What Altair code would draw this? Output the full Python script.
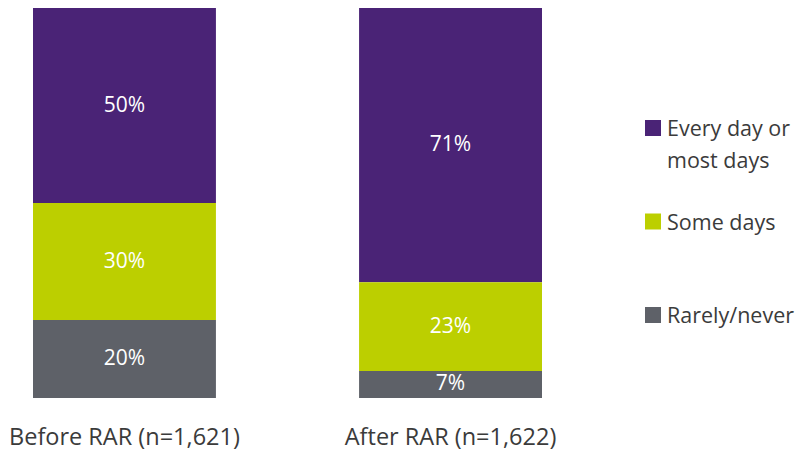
import altair as alt
import pandas as pd

groups = ["Before RAR (n=1,621)", "After RAR (n=1,622)"]
cats = ["Every day or most days", "Some days", "Rarely/never"]
legend_labels = ["Every day or\nmost days", "Some days", "Rarely/never"]
before = [50, 30, 20]
after = [71, 23, 7]
colors = ["#4a2376", "#bccf00", "#5e6168"]

FONT = "Open Sans"
TEXT = "#3b3b3b"

rows = []
for g, vals in zip(groups, [before, after]):
    for i, (c, v) in enumerate(zip(cats, vals)):
        rows.append({"group": g, "cat": c, "value": v, "ord": len(cats) - 1 - i})
df = pd.DataFrame(rows)

color_scale = alt.Scale(domain=cats, range=colors)

base = alt.Chart(df).transform_stack(
    stack="value",
    groupby=["group"],
    sort=[alt.SortField("ord", order="ascending")],
    offset="normalize",
    as_=["y0", "y1"],
).transform_calculate(
    mid="(datum.y0 + datum.y1) / 2",
    label="datum.value + '%'",
)

xenc = alt.X(
    "group:N",
    sort=groups,
    scale=alt.Scale(paddingInner=0.439, paddingOuter=0),
    axis=alt.Axis(
        title=None, labelAngle=0, domain=False, ticks=False, labelLimit=0,
        labelFontSize=23.5, labelFont=FONT, labelColor=TEXT, labelPadding=27,
    ),
)
yscale = alt.Scale(domain=[0, 1], nice=False)

bars = base.mark_bar().encode(
    x=xenc,
    y=alt.Y("y0:Q", scale=yscale, axis=None),
    y2="y1:Q",
    color=alt.Color("cat:N", scale=color_scale, legend=None),
)
texts = base.mark_text(color="white", fontSize=21, font=FONT, baseline="middle").encode(
    x=xenc,
    y=alt.Y("mid:Q", scale=yscale, axis=None),
    text="label:N",
)
bar_panel = alt.layer(bars, texts).properties(width=509, height=390)

leg_df = pd.DataFrame({"cat": cats, "label": legend_labels})
leg_base = alt.Chart(leg_df).encode(
    y=alt.Y("cat:N", sort=cats, scale=alt.Scale(range=[120, 307], padding=0), axis=None)
)
leg_sq = leg_base.mark_square(size=256, opacity=1).encode(
    x=alt.value(11),
    color=alt.Color("cat:N", scale=color_scale, legend=None),
)
leg_tx = leg_base.mark_text(
    align="left", baseline="alphabetic", dy=8, fontSize=21.5, lineHeight=32,
    lineBreak="\n", font=FONT, color=TEXT,
).encode(x=alt.value(25), text="label:N")
leg_panel = alt.layer(leg_sq, leg_tx).properties(width=120, height=390)

chart = alt.hconcat(bar_panel, leg_panel, spacing=100, bounds="flush").properties(
    padding={"left": 0, "top": 0, "right": 0, "bottom": 5},
    background="white",
).configure_view(stroke=None, strokeWidth=0)

chart.save("out.html", embed_options={"renderer": "svg", "actions": False})
